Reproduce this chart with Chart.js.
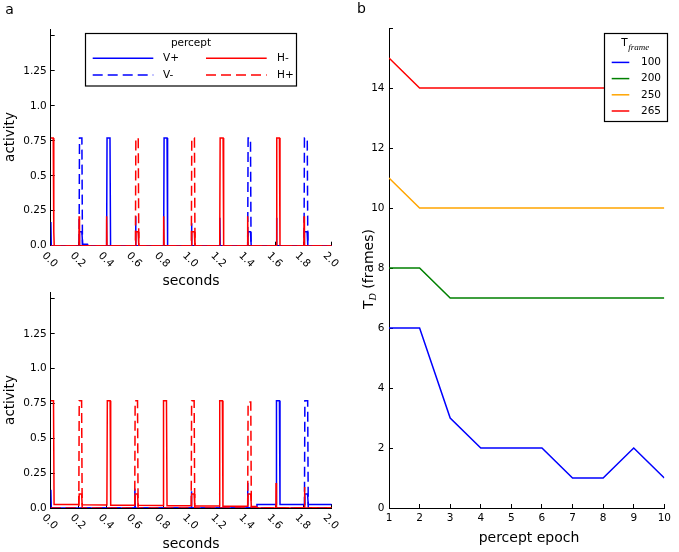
<!DOCTYPE html>
<html>
<head>
<meta charset="utf-8">
<script src="https://cdn.jsdelivr.net/npm/chart.js@4.4.1/dist/chart.umd.min.js"></script>
<style>
  html, body { margin: 0; padding: 0; background: #fff; }
  #fig { position: relative; width: 679px; height: 552px; overflow: hidden; background: #fff; }
  canvas { position: absolute; }
</style>
</head>
<body>
<div id="fig">
  <canvas id="topChart" width="340" height="300" style="left:0px;top:0px"></canvas>
  <canvas id="bottomChart" width="340" height="290" style="left:0px;top:262px"></canvas>
  <canvas id="epochChart" width="339" height="552" style="left:340px;top:0px"></canvas>
</div>
<script>
// ---- panel a: activity over time ----
const seconds = [0, 0.2, 0.4, 0.6, 0.8, 1.0, 1.2, 1.4, 1.6, 1.8, 2.0];
const secondsLabels = ["0.0", "0.2", "0.4", "0.6", "0.8", "1.0", "1.2", "1.4", "1.6", "1.8", "2.0"];
const activityTicks = [0, 0.25, 0.5, 0.75, 1.0, 1.25, 1.5];
const activityLabels = ["0.0", "0.25", "0.5", "0.75", "1.0", "1.25", ""];
const perceptNames = ["V+", "V-", "H-", "H+"];

// [seconds, activity]
const topVPlus = [[0,0],[0.001,0.17],[0.004,0],
  [0.202,0],[0.205,0.1],[0.222,0.1],[0.227,0.01],[0.262,0.01],[0.266,0],
  [0.398,0],[0.401,0.77],[0.422,0.77],[0.426,0],
  [0.603,0],[0.604,0.21],[0.607,0],
  [0.804,0],[0.807,0.77],[0.828,0.77],[0.832,0],
  [1.001,0],[1.002,0.16],[1.005,0],
  [1.203,0],[1.204,0.2],[1.207,0],
  [1.402,0],[1.405,0.1],[1.422,0.1],[1.427,0],
  [1.606,0],[1.607,0.2],[1.61,0],
  [1.803,0],[1.806,0.1],[1.825,0.1],[1.83,0],
  [2,0]];
const topVMinus = [[0,0],[0.202,0],[0.205,0.77],[0.222,0.77],[0.226,0],
  [1.402,0],[1.405,0.77],[1.422,0.77],[1.426,0],
  [1.803,0],[1.806,0.77],[1.826,0.77],[1.83,0],[2,0]];
const topHMinus = [[0,0.77],[0.018,0.77],[0.022,0.1],[0.025,0],
  [0.201,0],[0.202,0.21],[0.205,0],
  [0.397,0],[0.398,0.21],[0.401,0],
  [0.603,0],[0.606,0.1],[0.622,0.1],[0.627,0],
  [0.803,0],[0.804,0.21],[0.807,0],
  [1.001,0],[1.004,0.1],[1.022,0.1],[1.027,0],
  [1.203,0],[1.206,0.77],[1.227,0.77],[1.231,0],
  [1.401,0],[1.402,0.21],[1.405,0],
  [1.606,0],[1.609,0.77],[1.628,0.77],[1.632,0],
  [1.802,0],[1.803,0.21],[1.806,0],
  [2,0]];
const topHPlus = [[0,0],[0.603,0],[0.606,0.77],[0.623,0.77],[0.627,0],
  [1.001,0],[1.004,0.77],[1.023,0.77],[1.027,0],[2,0]];

const botVPlus = [[0,0],[0.001,0.13],[0.004,0],
  [0.598,0],[0.599,0.14],[0.602,0],
  [1.0,0],[1.001,0.12],[1.004,0],
  [1.4,0],[1.401,0.18],[1.404,0],
  [1.464,0],[1.468,0.025],[1.604,0.025],[1.607,0.77],[1.628,0.77],[1.632,0.025],
  [1.806,0.025],[1.809,0.1],[1.828,0.1],[1.833,0.025],[2,0.025]];
const botVMinus = [[0,0],[1.806,0],[1.809,0.77],[1.829,0.77],[1.833,0],[2,0]];
const botHMinus = [[0,0.77],[0.02,0.77],[0.024,0.025],
  [0.2,0.025],[0.203,0.1],[0.22,0.1],[0.224,0.024],
  [0.4,0.022],[0.403,0.77],[0.423,0.77],[0.427,0.02],
  [0.598,0.02],[0.601,0.1],[0.618,0.1],[0.622,0.019],
  [0.8,0.018],[0.803,0.77],[0.824,0.77],[0.828,0.017],
  [1.0,0.016],[1.003,0.1],[1.021,0.1],[1.025,0.015],
  [1.2,0.014],[1.203,0.77],[1.222,0.77],[1.226,0.013],
  [1.402,0.012],[1.405,0.1],[1.424,0.1],[1.428,0.011],
  [1.462,0.01],[1.466,0],
  [1.603,0],[1.604,0.18],[1.607,0],
  [1.805,0],[1.806,0.15],[1.809,0],
  [2,0]];
const botHPlus = [[0,0],[0.2,0],[0.203,0.77],[0.22,0.77],[0.224,0],
  [0.598,0],[0.601,0.77],[0.618,0.77],[0.622,0],
  [1.0,0],[1.003,0.77],[1.021,0.77],[1.025,0],
  [1.402,0],[1.405,0.76],[1.424,0.76],[1.428,0],
  [2,0]];

// ---- panel b: T_D per percept epoch ----
const epochs = [1, 2, 3, 4, 5, 6, 7, 8, 9, 10];
const tFrames = ["100", "200", "250", "265"];
const td100 = [6, 6, 3, 2, 2, 2, 1, 1, 2, 1];
const td200 = [8, 8, 7, 7, 7, 7, 7, 7, 7, 7];
const td250 = [11, 10, 10, 10, 10, 10, 10, 10, 10, 10];
const td265 = [15, 14, 14, 14, 14, 14, 14, 14, 14, 14];
const tdTicks = [0, 2, 4, 6, 8, 10, 12, 14, 16];
const tdLabels = ["0", "2", "4", "6", "8", "10", "12", "14", ""];

const BLUE = "#0000ff", RED = "#ff0000", GREEN = "#008000", ORANGE = "#ffa500";
const SANS = '"DejaVu Sans", sans-serif';
const SERIF_IT = 'italic 9px "Liberation Serif", "DejaVu Serif", serif';
Chart.defaults.font.family = SANS;
Chart.defaults.font.size = 10.5;
Chart.defaults.color = "#000";

// free text (panel letters, axis titles)
const figureText = {
    id: "figureText",
    afterDraw(chart, args, opts) {
        const ctx = chart.ctx;
        (opts.texts || []).forEach(t => {
            ctx.save();
            ctx.font = t.font;
            ctx.fillStyle = "#000";
            ctx.textAlign = "center";
            ctx.textBaseline = "middle";
            ctx.translate(t.x, t.y);
            if (t.rotate) ctx.rotate(t.rotate);
            ctx.fillText(t.text, 0, 0);
            ctx.restore();
        });
    }
};

// x tick labels turned clockwise, as in the figure
const slantedTicks = {
    id: "slantedTicks",
    afterDraw(chart, args, opts) {
        if (!opts.y) return;
        const ctx = chart.ctx;
        const scale = chart.scales.x;
        ctx.save();
        ctx.font = "10.5px " + SANS;
        ctx.fillStyle = "#000";
        ctx.textAlign = "center";
        ctx.textBaseline = "middle";
        seconds.forEach((v, i) => {
            ctx.save();
            ctx.translate(scale.getPixelForValue(v) - 1, opts.y);
            ctx.rotate(Math.PI / 4);
            ctx.fillText(secondsLabels[i], 0, 0);
            ctx.restore();
        });
        ctx.restore();
    }
};

// boxed legend drawn from the datasets' own styles
const boxLegend = {
    id: "boxLegend",
    afterDraw(chart, args, opts) {
        if (!opts.box) return;
        const ctx = chart.ctx;
        const b = opts.box;
        ctx.save();
        ctx.fillStyle = "#fff";
        ctx.fillRect(b.x, b.y, b.w, b.h);
        ctx.strokeStyle = "#000";
        ctx.lineWidth = 1.2;
        ctx.strokeRect(b.x, b.y, b.w, b.h);
        opts.drawTitle(ctx);
        opts.items.forEach(it => {
            const ds = chart.data.datasets.find(d => d.label === it.label);
            ctx.strokeStyle = ds.borderColor;
            ctx.lineWidth = ds.borderWidth;
            ctx.setLineDash(ds.borderDash || []);
            ctx.beginPath();
            ctx.moveTo(it.x1, it.y);
            ctx.lineTo(it.x2, it.y);
            ctx.stroke();
            ctx.setLineDash([]);
            ctx.font = "10.5px " + SANS;
            ctx.fillStyle = "#000";
            ctx.textAlign = "left";
            ctx.textBaseline = "middle";
            ctx.fillText(it.label, it.tx, it.y);
        });
        ctx.restore();
    }
};

function axisTicks(values, labels) {
    return {
        afterBuildTicks: s => { s.ticks = values.map(v => ({ value: v })); },
        callback: v => labels[values.indexOf(v)]
    };
}

function activityChart(id, series, cfg) {
    const styles = [
        { color: BLUE, dash: [] },
        { color: BLUE, dash: [10, 5] },
        { color: RED, dash: [] },
        { color: RED, dash: [10, 5] }
    ];
    const yt = axisTicks(activityTicks, activityLabels);
    return new Chart(document.getElementById(id), {
        type: "line",
        data: {
            datasets: series.map((pts, i) => ({
                label: perceptNames[i],
                data: pts.map(([x, y]) => ({ x, y })),
                borderColor: styles[i].color,
                borderDash: styles[i].dash,
                borderWidth: 1.5,
                pointRadius: 0,
                tension: 0,
                order: 3 - i
            }))
        },
        options: {
            responsive: false,
            animation: false,
            devicePixelRatio: 1,
            layout: { padding: { left: 0, top: cfg.top, right: 8.3, bottom: 0 } },
            scales: {
                x: {
                    type: "linear", min: 0, max: 2, z: 1,
                    afterBuildTicks: s => { s.ticks = seconds.map(v => ({ value: v })); },
                    afterFit: s => { s.height = cfg.xHeight; },
                    ticks: { display: false },
                    grid: { drawOnChartArea: false, tickLength: -4, color: "#000" },
                    border: { color: "#000", width: 1 }
                },
                y: {
                    type: "linear", min: 0, max: 1.55, z: 1,
                    afterBuildTicks: yt.afterBuildTicks,
                    afterFit: s => { s.width = 50.7; },
                    ticks: { padding: 8, callback: yt.callback, autoSkip: false },
                    grid: { drawOnChartArea: false, tickLength: -4, color: "#000" },
                    border: { color: "#000", width: 1 }
                }
            },
            plugins: {
                legend: { display: false },
                tooltip: { enabled: false },
                figureText: { texts: cfg.texts },
                slantedTicks: { y: cfg.tickY },
                boxLegend: cfg.legend || {}
            }
        },
        plugins: [figureText, slantedTicks, boxLegend]
    });
}

activityChart("topChart", [topVPlus, topVMinus, topHMinus, topHPlus], {
    top: 29, xHeight: 54.3, tickY: 260,
    texts: [
        { text: "a", x: 9.5, y: 10, font: "14px " + SANS },
        { text: "activity", x: 10, y: 137, rotate: -Math.PI / 2, font: "13.5px " + SANS },
        { text: "seconds", x: 191, y: 281, font: "14px " + SANS }
    ],
    legend: {
        box: { x: 85.5, y: 33.5, w: 211, h: 52.5 },
        drawTitle: ctx => {
            ctx.font = "10.5px " + SANS;
            ctx.fillStyle = "#000";
            ctx.textAlign = "center";
            ctx.textBaseline = "middle";
            ctx.fillText("percept", 191, 43.5);
        },
        items: [
            { label: "V+", x1: 92.7, x2: 153.3, tx: 163, y: 58.3 },
            { label: "V-", x1: 92.7, x2: 153.3, tx: 163, y: 75 },
            { label: "H-", x1: 206, x2: 266.7, tx: 277, y: 58.3 },
            { label: "H+", x1: 206, x2: 266.7, tx: 277, y: 75 }
        ]
    }
});

activityChart("bottomChart", [botVPlus, botVMinus, botHMinus, botHPlus], {
    top: 30, xHeight: 44, tickY: 260,
    texts: [
        { text: "activity", x: 10, y: 138, rotate: -Math.PI / 2, font: "13.5px " + SANS },
        { text: "seconds", x: 191, y: 282, font: "14px " + SANS }
    ]
});

// T_D (frames) with italic subscript
const tdTitle = {
    id: "tdTitle",
    afterDraw(chart) {
        const ctx = chart.ctx;
        ctx.save();
        ctx.translate(28, 269);
        ctx.rotate(-Math.PI / 2);
        ctx.fillStyle = "#000";
        ctx.textBaseline = "alphabetic";
        ctx.textAlign = "left";
        const main = "14px " + SANS, sub = 'italic 10px "Liberation Serif", serif';
        ctx.font = main; const wT = ctx.measureText("T").width;
        const wRest = ctx.measureText(" (frames)").width;
        ctx.font = sub; const wD = ctx.measureText("D").width;
        let x = -(wT + wD + wRest) / 2;
        ctx.font = main; ctx.fillText("T", x, 5); x += wT;
        ctx.font = sub; ctx.fillText("D", x, 8); x += wD;
        ctx.font = main; ctx.fillText(" (frames)", x, 5);
        ctx.restore();
    }
};

const ytd = axisTicks(tdTicks, tdLabels);
const xep = axisTicks(epochs, epochs.map(String));
new Chart(document.getElementById("epochChart"), {
    type: "line",
    data: {
        datasets: [td100, td200, td250, td265].map((vals, i) => ({
            label: tFrames[i],
            data: epochs.map((e, j) => ({ x: e, y: vals[j] })),
            borderColor: [BLUE, GREEN, ORANGE, RED][i],
            borderWidth: 1.5,
            pointRadius: 0,
            tension: 0
        }))
    },
    options: {
        responsive: false,
        animation: false,
        devicePixelRatio: 1,
        layout: { padding: { left: 0, top: 28, right: 9.5, bottom: 0 } },
        scales: {
            x: {
                type: "linear", min: 1, max: 10, z: 1,
                afterBuildTicks: xep.afterBuildTicks,
                afterFit: s => { s.height = 44; },
                ticks: { padding: 8, callback: xep.callback, autoSkip: false, maxRotation: 0 },
                grid: { drawOnChartArea: false, tickLength: -4, color: "#000" },
                border: { color: "#000", width: 1 }
            },
            y: {
                type: "linear", min: 0, max: 16, z: 1,
                afterBuildTicks: ytd.afterBuildTicks,
                afterFit: s => { s.width = 49; },
                ticks: { padding: 8.5, callback: ytd.callback, autoSkip: false },
                grid: { drawOnChartArea: false, tickLength: -4, color: "#000" },
                border: { color: "#000", width: 1 }
            }
        },
        plugins: {
            legend: { display: false },
            tooltip: { enabled: false },
            figureText: {
                texts: [
                    { text: "b", x: 21.5, y: 9, font: "14px " + SANS },
                    { text: "percept epoch", x: 189, y: 538, font: "14px " + SANS }
                ]
            },
            boxLegend: {
                box: { x: 264.5, y: 33.5, w: 63, h: 88 },
                drawTitle: ctx => {
                    ctx.fillStyle = "#000";
                    ctx.textBaseline = "alphabetic";
                    ctx.textAlign = "left";
                    ctx.font = "10.5px " + SANS;
                    const wT = ctx.measureText("T").width;
                    ctx.font = SERIF_IT;
                    const wF = ctx.measureText("frame").width;
                    const x0 = 295 - (wT + wF) / 2;
                    ctx.font = "10.5px " + SANS;
                    ctx.fillText("T", x0, 46);
                    ctx.font = SERIF_IT;
                    ctx.fillText("frame", x0 + wT + 0.5, 50);
                },
                items: tFrames.map((t, i) => ({ label: t, x1: 271.7, x2: 289.3, tx: 301, y: 62.4 + 16.2 * i }))
            }
        }
    },
    plugins: [figureText, boxLegend, tdTitle]
});
</script>
</body>
</html>
